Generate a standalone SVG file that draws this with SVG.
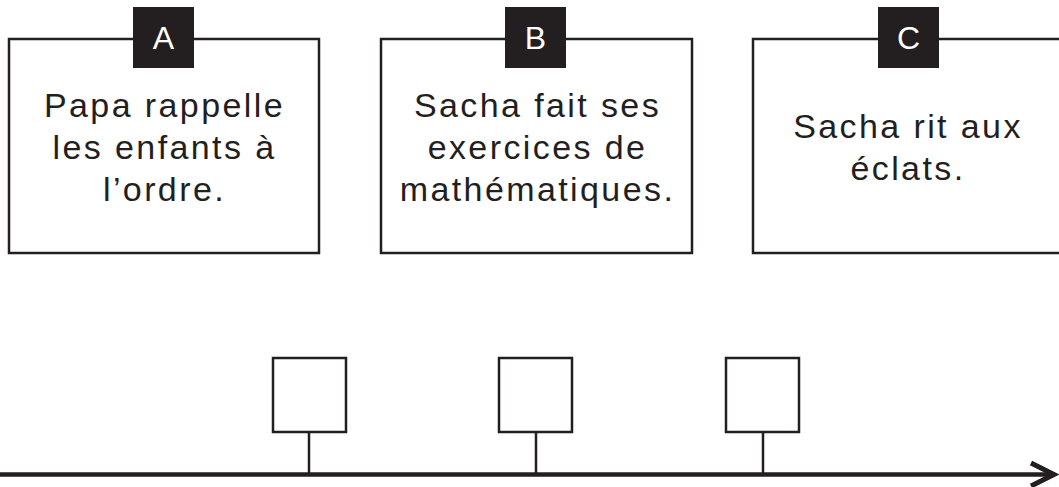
<svg xmlns="http://www.w3.org/2000/svg" width="1059" height="487" viewBox="0 0 1059 487">
<style>
.box{fill:#fff;stroke:#231f20;stroke-width:2.5}
.tag{fill:#231f20}
.tagt{fill:#fff;font-family:"Liberation Sans",Arial,sans-serif;font-size:32px;text-anchor:middle}
.txt{fill:#231f20;font-family:"Liberation Sans",Arial,sans-serif;font-size:34px;letter-spacing:2.4px;text-anchor:middle}
.sq{fill:#fff;stroke:#231f20;stroke-width:2.5}
.stem{stroke:#231f20;stroke-width:2.5}
</style>
<rect width="1059" height="487" fill="#fff"/>
<g id="nodeA">
<rect class="box" x="9" y="39" width="310" height="214"/>
<rect class="tag" x="133" y="7" width="61" height="61"/>
<text class="tagt" x="163.5" y="49">A</text>
<text class="txt" x="164.5" y="117">Papa rappelle</text>
<text class="txt" x="164.5" y="159">les enfants à</text>
<text class="txt" x="164.5" y="201">l’ordre.</text>
</g>
<g id="nodeB">
<rect class="box" x="381" y="39" width="311" height="214"/>
<rect class="tag" x="505" y="7" width="61" height="61"/>
<text class="tagt" x="535.5" y="49">B</text>
<text class="txt" x="537.5" y="117">Sacha fait ses</text>
<text class="txt" x="537.5" y="159">exercices de</text>
<text class="txt" x="537.5" y="201">mathématiques.</text>
</g>
<g id="nodeC">
<rect class="box" x="753" y="39" width="320" height="214"/>
<rect class="tag" x="878" y="7" width="61" height="61"/>
<text class="tagt" x="908.5" y="49">C</text>
<text class="txt" x="908" y="138">Sacha rit aux</text>
<text class="txt" x="908" y="180">éclats.</text>
</g>
<g id="slot1"><rect class="sq" x="273" y="358" width="73" height="74"/></g>
<g id="slot2"><rect class="sq" x="499" y="358" width="73" height="74"/></g>
<g id="slot3"><rect class="sq" x="726" y="358" width="73" height="74"/></g>
<g id="connectors">
<line class="stem" x1="309" y1="432" x2="309" y2="474"/>
<line class="stem" x1="536" y1="432" x2="536" y2="474"/>
<line class="stem" x1="763" y1="432" x2="763" y2="474"/>
<line x1="0" y1="474.5" x2="1052" y2="474.5" stroke="#231f20" stroke-width="4.5"/>
<polyline points="1031,463 1054,474.5 1031,486" fill="none" stroke="#231f20" stroke-width="5"/>
</g>
</svg>
